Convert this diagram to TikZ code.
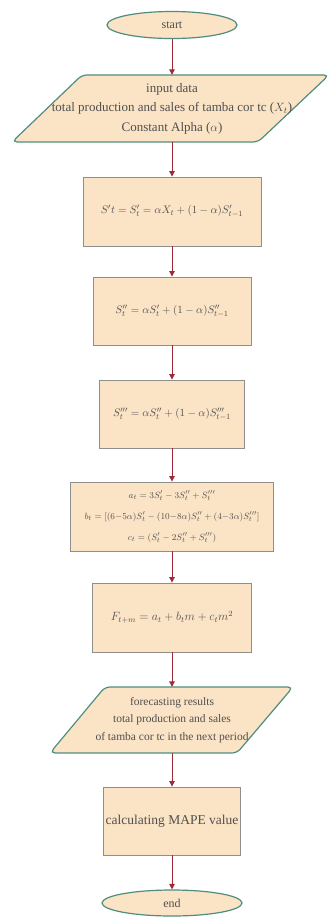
\documentclass[tikz,border=0pt]{standalone}
\usepackage{fontspec}
\setmainfont{Liberation Serif}
\usetikzlibrary{shapes.geometric,arrows.meta}
\definecolor{peach}{HTML}{FBE3C5}
\definecolor{tealb}{HTML}{4F8E7E}
\definecolor{grayb}{HTML}{8E8E8A}
\definecolor{arrred}{HTML}{9E2A38}
\definecolor{txt}{HTML}{505050}
\tikzset{
  term/.style={ellipse, draw=tealb, line width=1.2pt, fill=peach, inner sep=0pt, text=txt, font=\fontsize{12}{14}\selectfont},
  procbox/.style={rectangle, draw=grayb, line width=0.9pt, fill=peach, inner sep=0pt, text=txt, align=center, font=\fontsize{11}{14}\selectfont},
  iobox/.style={draw=tealb, line width=1.2pt, fill=peach, rounded corners=5pt},
  iotext/.style={rectangle, inner sep=0pt, text=txt, align=center},
  arr/.style={draw=arrred, line width=1pt, -{Triangle[length=5.5pt,width=5.5pt]}}
}
\begin{document}
\begin{tikzpicture}[x=1pt,y=1pt]
\useasboundingbox (0,0) rectangle (332,-924);
% start
\node[term, minimum width=130, minimum height=27] (start) at (172,-25) {start};
% input parallelogram
\draw[iobox] (82,-75) -- (329,-75) -- (258,-142) -- (12,-142) -- cycle;
\node[iotext, minimum width=150, minimum height=67, font=\fontsize{13}{19.5}\selectfont] (in) at (172,-108.5)
  {input data\\total production and sales of tamba cor tc ($X_t$)\\Constant Alpha ($\alpha$)};
% boxes
\node[procbox, minimum width=178, minimum height=69] (b1) at (172,-211.5)
  {$S't = S'_t = \alpha X_t + (1-\alpha)S'_{t-1}$};
\node[procbox, minimum width=158, minimum height=68] (b2) at (172,-311)
  {$S''_t = \alpha S'_t + (1-\alpha)S''_{t-1}$};
\node[procbox, minimum width=145, minimum height=68] (b3) at (172,-414)
  {$S'''_t = \alpha S''_t + (1-\alpha)S'''_{t-1}$};
\node[procbox, minimum width=203, minimum height=69, font=\fontsize{9.5}{21}\selectfont] (b4) at (172,-516.5)
  {$a_t = 3S'_t - 3S''_t + S'''_t$\\
   $b_t = [(6{-}5\alpha)S'_t - (10{-}8\alpha)S''_t + (4{-}3\alpha)S'''_t]$\\
   $c_t = (S'_t - 2S''_t + S'''_t)$};
\node[procbox, minimum width=159, minimum height=69, font=\fontsize{12}{14}\selectfont] (b5) at (172,-617.5)
  {$F_{t+m} = a_t + b_t m + c_t m^2$};
% output parallelogram
\draw[iobox] (105,-687) -- (293,-687) -- (237,-753) -- (50,-753) -- cycle;
\node[iotext, minimum width=120, minimum height=66, font=\fontsize{11.5}{17.5}\selectfont] (out) at (172,-720)
  {forecasting results\\total production and sales\\of tamba cor tc in the next period};
\node[procbox, minimum width=137, minimum height=68, font=\fontsize{13.5}{14}\selectfont] (b6) at (172,-821)
  {calculating MAPE value};
% end
\node[term, minimum width=140, minimum height=26] (end) at (172,-903) {end};
% connectors
\draw[arr] (start) -- (in);
\draw[arr] (in) -- (b1);
\draw[arr] (b1) -- (b2);
\draw[arr] (b2) -- (b3);
\draw[arr] (b3) -- (b4);
\draw[arr] (b4) -- (b5);
\draw[arr] (b5) -- (out);
\draw[arr] (out) -- (b6);
\draw[arr] (b6) -- (end);
\end{tikzpicture}
\end{document}
